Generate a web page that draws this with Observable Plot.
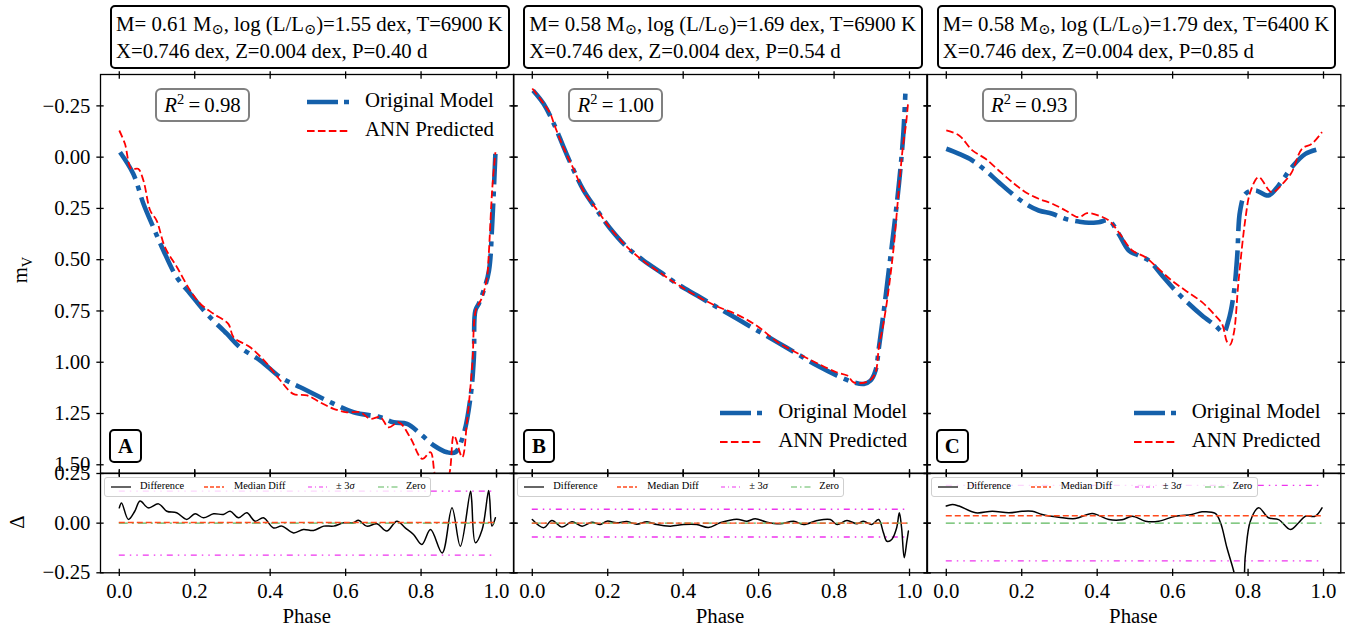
<!DOCTYPE html>
<html><head><meta charset="utf-8">
<script src="https://cdn.jsdelivr.net/npm/d3@7"></script>
<script src="https://cdn.jsdelivr.net/npm/@observablehq/plot@0.6"></script>
<style>
body{margin:0;background:#fff;}
#root{position:relative;width:1363px;height:629px;overflow:hidden;font-family:"Liberation Serif","DejaVu Serif",serif;color:#000;}
#root svg text{font-family:"Liberation Serif","DejaVu Serif",serif !important;}
.abs{position:absolute;}
.tbox{position:absolute;border:2px solid #000;border-radius:5px;background:#fff;font-size:20.8px;line-height:27px;padding:3px 5px 3px 4px;white-space:nowrap;}
.tbox sub{font-size:14.5px;vertical-align:-3px;line-height:0;}
.rbox{position:absolute;border:2px solid #808080;border-radius:6px;background:#fff;font-size:20.8px;text-align:center;box-sizing:border-box;}
.lbox{position:absolute;border:2px solid #000;border-radius:5px;background:#fff;font-size:20.8px;font-weight:bold;text-align:center;box-sizing:border-box;}
.leg{position:absolute;font-size:20.8px;white-space:nowrap;}
.rleg{position:absolute;border:1px solid #cfcfcf;border-radius:3px;background:rgba(255,255,255,0.8);box-sizing:border-box;font-size:10.4px;}
.rleg span{position:absolute;top:2px;}
</style></head>
<body><div id="root"></div>
<script>
// ---------------- data ----------------
const xTicks = [0, 0.2, 0.4, 0.6, 0.8, 1.0];
const yTicksTop = [-0.25, 0, 0.25, 0.5, 0.75, 1.0, 1.25, 1.5];
const yTicksRes = [-0.25, 0, 0.25];
const panelLetters = ["A", "B", "C"];
const r2Values = ["0.98", "1.00", "0.93"];
const masses = ["0.61", "0.58", "0.58"];
const logLs = ["1.55", "1.69", "1.79"];
const temps = ["6900", "6900", "6400"];
const periods = ["0.40", "0.54", "0.85"];
const legendPos = ["top", "bottom", "bottom"];

// Panel A
const phaseOrigA = [0.002,0.037,0.064,0.09,0.117,0.152,0.188,0.232,0.285,0.32,0.374,0.427,0.48,0.551,0.621,0.692,0.727,0.763,0.798,0.834,0.869,0.891,0.913,0.931,0.94,0.944,0.953,0.966,0.98,0.989,0.997];
const magOrigA = [-0.024,0.081,0.227,0.341,0.455,0.585,0.666,0.764,0.861,0.927,0.992,1.073,1.122,1.187,1.244,1.268,1.293,1.301,1.349,1.406,1.439,1.439,1.349,1.171,0.976,0.748,0.715,0.65,0.553,0.309,-0.016];
const phasePredA = [0.0,0.015,0.032,0.05,0.064,0.082,0.099,0.121,0.153,0.188,0.215,0.25,0.289,0.303,0.347,0.392,0.427,0.461,0.498,0.532,0.568,0.603,0.639,0.665,0.692,0.714,0.741,0.771,0.803,0.825,0.842,0.869,0.887,0.909,0.922,0.936,0.945,0.962,0.975,0.979,0.989,0.997];
const magPredA = [-0.13,-0.065,0.057,0.057,0.114,0.26,0.309,0.439,0.537,0.65,0.715,0.764,0.813,0.878,0.927,1.008,1.089,1.154,1.162,1.195,1.227,1.244,1.244,1.276,1.268,1.317,1.293,1.366,1.471,1.439,1.57,1.57,1.358,1.463,1.284,1.008,0.748,0.683,0.585,0.488,0.146,-0.024];
const phaseDiffA = [0,0.006,0.024,0.041,0.055,0.077,0.104,0.126,0.152,0.179,0.201,0.223,0.25,0.276,0.294,0.316,0.338,0.36,0.382,0.409,0.431,0.462,0.488,0.515,0.542,0.568,0.595,0.621,0.634,0.656,0.683,0.709,0.736,0.758,0.78,0.802,0.825,0.856,0.882,0.904,0.931,0.934,0.944,0.962,0.979,0.982,0.988,0.997];
const diffA = [0.077,0.102,0.019,0.06,0.111,0.077,0.097,0.06,0.052,0.019,0.047,0.027,0.047,0.044,0.06,0.027,0.052,0.01,0.027,-0.024,-0.015,-0.049,-0.032,-0.037,-0.015,-0.015,0.002,0.002,0.015,-0.015,-0.003,-0.04,0.01,-0.024,-0.057,-0.107,-0.032,-0.15,0.077,-0.116,0.161,0.12,-0.099,-0.032,0.165,0.12,-0.015,0.027];

// Panel B
const phaseOrigB = [0.002,0.03,0.057,0.083,0.11,0.136,0.172,0.207,0.251,0.295,0.34,0.384,0.437,0.49,0.543,0.596,0.649,0.702,0.755,0.808,0.852,0.879,0.897,0.91,0.919,0.932,0.945,0.958,0.972,0.983,0.989];
const magOrigB = [-0.325,-0.26,-0.163,-0.049,0.065,0.162,0.26,0.349,0.439,0.504,0.561,0.618,0.675,0.732,0.788,0.845,0.902,0.959,1.016,1.065,1.098,1.106,1.089,1.04,0.927,0.748,0.553,0.358,0.13,-0.098,-0.31];
const phasePredB = [0.0,0.03,0.048,0.057,0.083,0.11,0.136,0.172,0.207,0.251,0.295,0.34,0.384,0.437,0.49,0.543,0.596,0.649,0.702,0.755,0.808,0.835,0.852,0.879,0.897,0.91,0.919,0.932,0.945,0.958,0.972,0.983,0.99,0.996];
const magPredB = [-0.335,-0.262,-0.212,-0.165,-0.045,0.06,0.165,0.258,0.347,0.437,0.507,0.565,0.62,0.678,0.728,0.768,0.823,0.9,0.955,1.005,1.05,1.065,1.098,1.1,1.085,1.05,0.925,0.8,0.64,0.44,0.15,-0.06,-0.15,-0.26];
const phaseDiffB = [0,0.03,0.052,0.079,0.105,0.132,0.158,0.18,0.198,0.224,0.251,0.277,0.304,0.33,0.366,0.401,0.436,0.467,0.498,0.542,0.569,0.591,0.622,0.657,0.693,0.719,0.755,0.79,0.808,0.834,0.861,0.878,0.9,0.918,0.931,0.94,0.953,0.966,0.973,0.979,0.986,0.993,0.997];
const diffB = [0.018,-0.023,0.013,-0.02,0.007,-0.015,0.005,-0.007,0.01,0.002,0.008,-0.005,0.007,-0.007,-0.015,-0.007,-0.007,-0.022,0.002,0.02,0.01,0.022,0.005,-0.003,0.01,-0.007,0.013,0.018,-0.007,0.013,-0.003,0.01,-0.007,0.018,-0.049,-0.091,-0.082,-0.023,0.052,-0.023,-0.174,-0.091,-0.04];

// Panel C
const phaseOrigC = [0,0.034,0.069,0.104,0.139,0.175,0.21,0.245,0.281,0.316,0.351,0.378,0.404,0.431,0.457,0.484,0.51,0.537,0.572,0.607,0.643,0.678,0.713,0.735,0.748,0.762,0.771,0.779,0.793,0.819,0.854,0.881,0.916,0.952,0.991];
const magOrigC = [-0.041,-0.016,0.016,0.065,0.122,0.179,0.227,0.26,0.276,0.301,0.314,0.32,0.317,0.309,0.374,0.455,0.48,0.504,0.577,0.65,0.715,0.772,0.821,0.854,0.797,0.666,0.488,0.26,0.179,0.162,0.187,0.138,0.049,-0.016,-0.041];
const phasePredC = [0,0.034,0.069,0.104,0.139,0.175,0.21,0.245,0.281,0.316,0.351,0.373,0.404,0.431,0.457,0.493,0.528,0.563,0.598,0.634,0.678,0.713,0.731,0.744,0.752,0.762,0.775,0.793,0.806,0.828,0.863,0.899,0.916,0.943,0.969,0.996];
const magPredC = [-0.13,-0.106,-0.033,0.008,0.065,0.122,0.171,0.203,0.227,0.26,0.293,0.273,0.285,0.309,0.366,0.455,0.488,0.545,0.602,0.65,0.707,0.772,0.813,0.9,0.915,0.86,0.6,0.3,0.17,0.098,0.171,0.114,0.073,-0.041,-0.065,-0.122];
const phaseDiffC = [0,0.016,0.034,0.078,0.122,0.166,0.201,0.228,0.254,0.298,0.342,0.387,0.431,0.466,0.493,0.528,0.563,0.607,0.651,0.678,0.713,0.727,0.744,0.762,0.771,0.784,0.793,0.806,0.828,0.854,0.881,0.912,0.934,0.952,0.978,0.996];
const diffC = [0.086,0.094,0.086,0.052,0.06,0.052,0.06,0.06,0.044,0.03,0.023,0.049,0.018,0.017,0.035,0.01,0.01,0.035,0.044,0.057,0.049,0.002,-0.124,-0.242,-0.32,-0.32,-0.158,0.01,0.077,0.027,0.018,-0.032,0.002,0.035,0.035,0.077];

const medianDiff = [0.003, 0.0, 0.037];
const sigma3 = [0.161, 0.07, 0.19];

const origPhases = [phaseOrigA, phaseOrigB, phaseOrigC];
const origMags = [magOrigA, magOrigB, magOrigC];
const predPhases = [phasePredA, phasePredB, phasePredC];
const predMags = [magPredA, magPredB, magPredC];
const diffPhases = [phaseDiffA, phaseDiffB, phaseDiffC];
const diffVals = [diffA, diffB, diffC];

// ---------------- layout ----------------
const root = document.getElementById("root");
const FW = 413.3;
const FL = [100, 513.3, 926.7];
const TOP_Y = 74, TOP_H = 398.7;
const RES_Y = 472.7, RES_H = 99.3;
const XDOM = [-0.0498, 1.0458];
const YDOM = [-0.403, 1.541];
const BLUE = "#1560aa", RED = "#ff0000";
const FONT = "'Liberation Serif','DejaVu Serif',serif";
const FS = 20.8;
const TS = 7.3, TO = 3.65, SW = 1.3;
const blank = () => "";
const svgStyle = {background: "transparent", overflow: "visible", fontFamily: FONT, fontSize: FS + "px", maxWidth: "none", color: "#000"};

function place(node, left, top) {
  node.style.position = "absolute";
  node.style.left = left + "px";
  node.style.top = top + "px";
  root.appendChild(node);
  return node;
}
function el(cls, css, html) {
  const d = document.createElement("div");
  d.className = cls;
  Object.assign(d.style, css);
  d.innerHTML = html;
  root.appendChild(d);
  return d;
}
function tickAxes(yTicks) {
  return [
    Plot.axisX({anchor: "bottom", ticks: xTicks, tickSize: TS, dy: -TO, tickFormat: blank, label: null, strokeWidth: SW}),
    Plot.axisX({anchor: "top", ticks: xTicks, tickSize: TS, dy: TO, tickFormat: blank, label: null, strokeWidth: SW}),
    Plot.axisY({anchor: "left", ticks: yTicks, tickSize: TS, dx: TO, tickFormat: blank, label: null, strokeWidth: SW}),
    Plot.axisY({anchor: "right", ticks: yTicks, tickSize: TS, dx: -TO, tickFormat: blank, label: null, strokeWidth: SW})
  ];
}

const ml = 110, mr = 20, mt = 20, mb = 45;

for (let i = 0; i < 3; i++) {
  const L = FL[i];
  const orig = origPhases[i].map((p, j) => ({phase: p, mag: origMags[i][j]}));
  const pred = predPhases[i].map((p, j) => ({phase: p, mag: predMags[i][j]}));
  const diff = diffPhases[i].map((p, j) => ({phase: p, d: diffVals[i][j]}));
  const pMax = d3.max(diffPhases[i]);

  // ---- main light-curve panel ----
  const top = Plot.plot({
    width: FW + ml + mr, height: TOP_H + mt + mb,
    marginLeft: ml, marginRight: mr, marginTop: mt, marginBottom: mb,
    x: {domain: XDOM}, y: {domain: YDOM, reverse: true},
    style: svgStyle,
    marks: [
      ...tickAxes(yTicksTop),
      i === 0 ? Plot.axisY({anchor: "left", ticks: yTicksTop, tickSize: 0, tickPadding: 10, tickFormat: d3.format(".2f"), label: null, fontSize: FS}) : null,
      Plot.line(orig, {x: "phase", y: "mag", stroke: BLUE, strokeWidth: 4.6, strokeDasharray: "31,7,5,7", strokeLinecap: "butt", curve: "catmull-rom", clip: true}),
      Plot.line(pred, {x: "phase", y: "mag", stroke: RED, strokeWidth: 1.8, strokeDasharray: "7.6,3.3", strokeLinecap: "butt", curve: "catmull-rom", clip: true}),
      Plot.frame({stroke: "#000", strokeWidth: SW})
    ]
  });
  place(top, L - ml, TOP_Y - mt);

  // ---- residual panel ----
  const ref = [
    {y: sigma3[i], x1: 0, x2: pMax}, {y: -sigma3[i], x1: 0, x2: pMax}
  ];
  const res = Plot.plot({
    width: FW + ml + mr, height: RES_H + mt + mb,
    marginLeft: ml, marginRight: mr, marginTop: mt, marginBottom: mb,
    x: {domain: XDOM}, y: {domain: [-0.25, 0.25]},
    style: svgStyle,
    marks: [
      ...tickAxes(yTicksRes),
      Plot.axisX({anchor: "bottom", ticks: xTicks, tickSize: 0, tickPadding: 10, tickFormat: d3.format(".1f"), label: null, fontSize: FS}),
      i === 0 ? Plot.axisY({anchor: "left", ticks: yTicksRes, tickSize: 0, tickPadding: 10, tickFormat: d3.format(".2f"), label: null, fontSize: FS}) : null,
      Plot.ruleY(ref, {y: "y", x1: "x1", x2: "x2", stroke: "#ee33ee", strokeWidth: 1.4, strokeDasharray: "6,5,1.5,5,1.5,5"}),
      Plot.line(diff, {x: "phase", y: "d", stroke: "#000", strokeWidth: 1.5, curve: "catmull-rom", clip: true}),
      Plot.ruleY([{y: 0, x1: 0, x2: pMax}], {y: "y", x1: "x1", x2: "x2", stroke: "#5cb85c", strokeWidth: 1.4, strokeDasharray: "9,4,2,4"}),
      Plot.ruleY([{y: medianDiff[i], x1: 0, x2: pMax}], {y: "y", x1: "x1", x2: "x2", stroke: "#ff4a1c", strokeWidth: 1.4, strokeDasharray: "6,3"}),
      Plot.frame({stroke: "#000", strokeWidth: SW})
    ]
  });
  place(res, L - ml, RES_Y - mt);

  // ---- title box ----
  el("tbox", {left: (L + 10) + "px", top: "5px"},
    `M= ${masses[i]} M<sub>⊙</sub>, log (L/L<sub>⊙</sub>)=${logLs[i]} dex, T=${temps[i]} K<br>X=0.746 dex, Z=0.004 dex, P=${periods[i]} d`);

  // ---- R^2 box ----
  el("rbox", {left: (L + 55) + "px", top: (TOP_Y + 14) + "px", width: "95px", height: "34px", lineHeight: "30px"},
    `<i>R</i><sup style="font-size:14.5px;line-height:0">2</sup>&thinsp;=&thinsp;${r2Values[i]}`);

  // ---- letter box ----
  el("lbox", {left: (L + 9.3) + "px", top: (RES_Y - 43.4) + "px", width: "32.5px", height: "33.5px", lineHeight: "29px"}, panelLetters[i]);

  // ---- main legend ----
  const ly = legendPos[i] === "top" ? TOP_Y + 27.7 : RES_Y - 60;
  el("leg", {left: (L + 207) + "px", top: (ly - 15) + "px", height: "30px", width: "200px"},
    `<svg width="42" height="30" style="position:absolute;left:0;top:0"><line x1="0" x2="42" y1="15" y2="15" stroke="${BLUE}" stroke-width="4.6" stroke-dasharray="31,6,5,7"/></svg><span style="position:absolute;left:58px;top:1px">Original Model</span>`);
  el("leg", {left: (L + 207) + "px", top: (ly + 29 - 15) + "px", height: "30px", width: "200px"},
    `<svg width="42" height="30" style="position:absolute;left:0;top:0"><line x1="0" x2="42" y1="15" y2="15" stroke="${RED}" stroke-width="1.8" stroke-dasharray="7.6,3.3"/></svg><span style="position:absolute;left:58px;top:1px">ANN Predicted</span>`);

  // ---- residual legend ----
  el("rleg", {left: (L + 4) + "px", top: (RES_Y + 4.5) + "px", width: "327px", height: "20px"},
    `<svg width="327" height="20" style="position:absolute;left:0;top:0">
      <line x1="6" x2="26" y1="9" y2="9" stroke="#000" stroke-width="1.2"/>
      <line x1="99" x2="119" y1="9" y2="9" stroke="#ff4a1c" stroke-width="1.3" stroke-dasharray="4,2"/>
      <line x1="203" x2="223" y1="9" y2="9" stroke="#ee33ee" stroke-width="1.2" stroke-dasharray="4,3,1,3"/>
      <line x1="273" x2="293" y1="9" y2="9" stroke="#5cb85c" stroke-width="1.2" stroke-dasharray="6,3,1.5,3"/>
    </svg>
    <span style="left:35px">Difference</span><span style="left:129px">Median Diff</span><span style="left:231px">± 3<i>σ</i></span><span style="left:301px">Zero</span>`);

  // ---- x label ----
  el("abs", {left: L + "px", width: FW + "px", top: "604px", textAlign: "center", fontSize: FS + "px"}, "Phase");
}

// y labels
el("abs", {left: "22px", top: "270px", fontSize: FS + "px", transform: "translate(-50%,-50%) rotate(-90deg)", whiteSpace: "nowrap"}, "m<sub style='font-size:14.5px'>V</sub>");
el("abs", {left: "17px", top: "522px", fontSize: FS + "px", transform: "translate(-50%,-50%) rotate(-90deg)"}, "Δ");
</script>
</body></html>
